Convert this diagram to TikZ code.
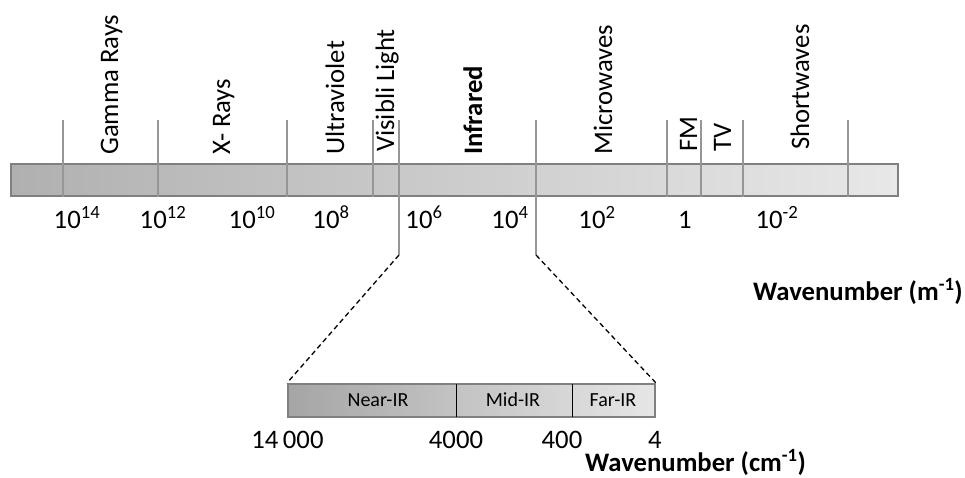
\documentclass[tikz,border=0pt]{standalone}
\usepackage{fontspec}
\setmainfont{Carlito}
\begin{document}
\begin{tikzpicture}[x=1pt,y=-1pt,
  specbar/.style={draw=barborder,line width=2pt,inner sep=0pt,left color=barleft,right color=barright},
  irbar/.style={draw=barborder,line width=2pt,inner sep=0pt,left color=irleft,right color=irright},
  tickline/.style={draw=tickgray,line width=1.4pt},
  divline/.style={draw=black,line width=0.9pt},
  zoomline/.style={draw=black,line width=1.3pt,dash pattern=on 5pt off 3.5pt},
  band/.style={rotate=90,anchor=base west,inner sep=0pt,font=\fontsize{26.7}{30}\selectfont},
  bigno/.style={anchor=base,inner sep=0pt,font=\fontsize{26.7}{30}\selectfont},
  small/.style={anchor=base,inner sep=0pt,font=\fontsize{20}{24}\selectfont},
  axislabel/.style={inner sep=0pt,font=\fontsize{26.7}{30}\selectfont\bfseries}
]
\definecolor{barborder}{RGB}{128,128,128}
\definecolor{barleft}{RGB}{176,176,176}
\definecolor{barright}{RGB}{232,232,232}
\definecolor{irleft}{RGB}{165,165,165}
\definecolor{irright}{RGB}{230,230,230}
\definecolor{tickgray}{RGB}{150,150,150}
\useasboundingbox (0,0) rectangle (965,477);

% main spectrum bar
\node[specbar,minimum width=887pt,minimum height=32pt] (spec) at (454.5,180) {};

% tick lines
\foreach \x/\n in {63/a,158/b,287/c,373/d,667/g,701/h,743/i,848/j}{
  \coordinate (t\n top) at (\x,120);
  \coordinate (t\n bot) at (\x,197);
  \draw[tickline] (t\n top) -- (t\n bot);
}
\coordinate (tetop) at (399,120);
\coordinate (ebot) at (399,255);
\coordinate (tftop) at (536,120);
\coordinate (fbot) at (536,255);
\draw[tickline] (tetop) -- (ebot);
\draw[tickline] (tftop) -- (fbot);

% band labels
\node[band] (gamma) at (118,155) {Gamma Rays};
\node[band] (xray) at (230,155) {X- Rays};
\node[band] (uv) at (344,155) {Ultraviolet};
\node[band] (vis) at (394,152) {Visibli Light};
\node[band,font=\fontsize{26.7}{30}\selectfont\bfseries] (ir) at (482,155) {Infrared};
\node[band] (micro) at (612,155) {Microwaves};
\node[band] (fm) at (697,152) {FM};
\node[band] (tv) at (731,152) {TV};
\node[band] (short) at (809,150) {Shortwaves};

% wavenumber values (m^-1)
\node[bigno] (n14) at (77,228) {10\textsuperscript{14}};
\node[bigno] (n12) at (163,228) {10\textsuperscript{12}};
\node[bigno] (n10) at (252,228) {10\textsuperscript{10}};
\node[bigno] (n8) at (331,228) {10\textsuperscript{8}};
\node[bigno] (n6) at (424,228) {10\textsuperscript{6}};
\node[bigno] (n4) at (510,228) {10\textsuperscript{4}};
\node[bigno] (n2) at (597,228) {10\textsuperscript{2}};
\node[bigno] (n0) at (685,228) {1};
\node[bigno] (nm2) at (777,228) {10\textsuperscript{-2}};

\node[axislabel,anchor=base east] (wn1) at (963,300) {Wavenumber (m\textsuperscript{-1})};

% IR detail bar
\node[irbar,minimum width=367pt,minimum height=33pt] (irb) at (471.5,400.5) {};
\coordinate (d1t) at (456,384);
\coordinate (d1b) at (456,417);
\coordinate (d2t) at (572,384);
\coordinate (d2b) at (572,417);
\draw[divline] (d1t) -- (d1b);
\draw[divline] (d2t) -- (d2b);

\node[small] (nir) at (378,406.5) {Near-IR};
\node[small] (mir) at (513,406.5) {Mid-IR};
\node[small] (fir) at (613,406.5) {Far-IR};

\draw[zoomline] (ebot) -- (irb.north west);
\draw[zoomline] (fbot) -- (irb.north east);

\node[bigno] (c14000) at (287.5,448.5) {14\,000};
\node[bigno] (c4000) at (456,448.5) {4000};
\node[bigno] (c400) at (562,448.5) {400};
\node[bigno] (c4) at (655,448.5) {4};

\node[axislabel,anchor=base west] (wn2) at (585,471) {Wavenumber (cm\textsuperscript{-1})};
\end{tikzpicture}
\end{document}
